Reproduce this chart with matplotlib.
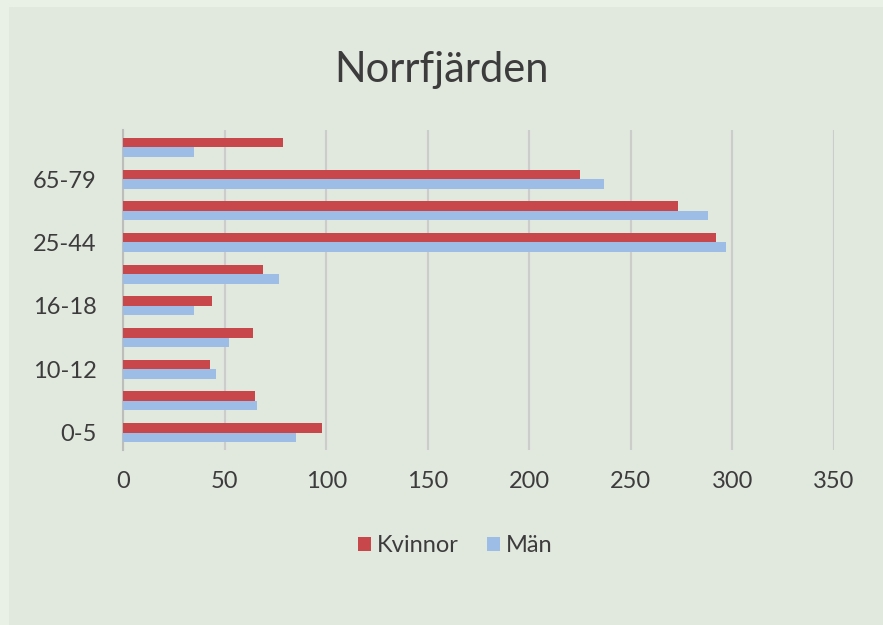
import numpy as np
import matplotlib.pyplot as plt
from matplotlib.patches import Rectangle

# age groups, bottom to top (only every other label is shown, as in the original)
groups = ["0-5", "6-9", "10-12", "13-15", "16-18", "19-24", "25-44", "45-64", "65-79", "80+"]
kvinnor = [98, 65, 43, 64, 44, 69, 292, 273, 225, 79]
man = [85, 66, 46, 52, 35, 77, 297, 288, 237, 35]

red = "#c8474a"
blue = "#9dbce6"
txt = "#3c3c3c"

plt.rcParams['font.family'] = ['Lato', 'DejaVu Sans']

fig = plt.figure(figsize=(8.83, 6.25), dpi=100)
fig.patch.set_facecolor("#e9f1e7")
fig.patches.append(Rectangle((9 / 883, 0), 1, 1 - 7 / 625, transform=fig.transFigure,
                             facecolor="#e1e8de", edgecolor="none", zorder=-10))

ax = fig.add_axes([123 / 883, 1 - 450 / 625, 711 / 883, 320 / 625])
ax.set_facecolor("none")

y = np.arange(len(groups))
h = 0.3
ax.barh(y + h / 2, kvinnor, height=h, color=red, label="Kvinnor", zorder=3)
ax.barh(y - h / 2, man, height=h, color=blue, label="Män", zorder=3)

ax.set_xlim(0, 350)
ax.set_ylim(-0.55, 9.55)
ax.set_xticks(np.arange(0, 351, 50))
ax.set_yticks(y[::2])
ax.set_yticklabels(groups[::2])

ax.grid(axis="x", color="#cbcdcb", linewidth=1.5, zorder=1)
for s in ["top", "right", "bottom"]:
    ax.spines[s].set_visible(False)
ax.spines["left"].set_color("#bcbebc")
ax.spines["left"].set_linewidth(1.5)
ax.tick_params(axis="both", length=0, labelsize=17, colors=txt)
ax.tick_params(axis="x", pad=15)
ax.tick_params(axis="y", pad=19)

fig.text(0.5, 1 - 70 / 625, "Norrfjärden", ha="center", va="center", fontsize=30, color=txt)

fig.legend(loc="center", bbox_to_anchor=(455 / 883, 1 - 546 / 625), ncol=2, frameon=False,
           fontsize=17, handlelength=0.55, handleheight=0.55, handletextpad=0.25,
           columnspacing=1.2, labelcolor=txt)

fig.savefig("out.png", dpi=100, facecolor=fig.get_facecolor())
